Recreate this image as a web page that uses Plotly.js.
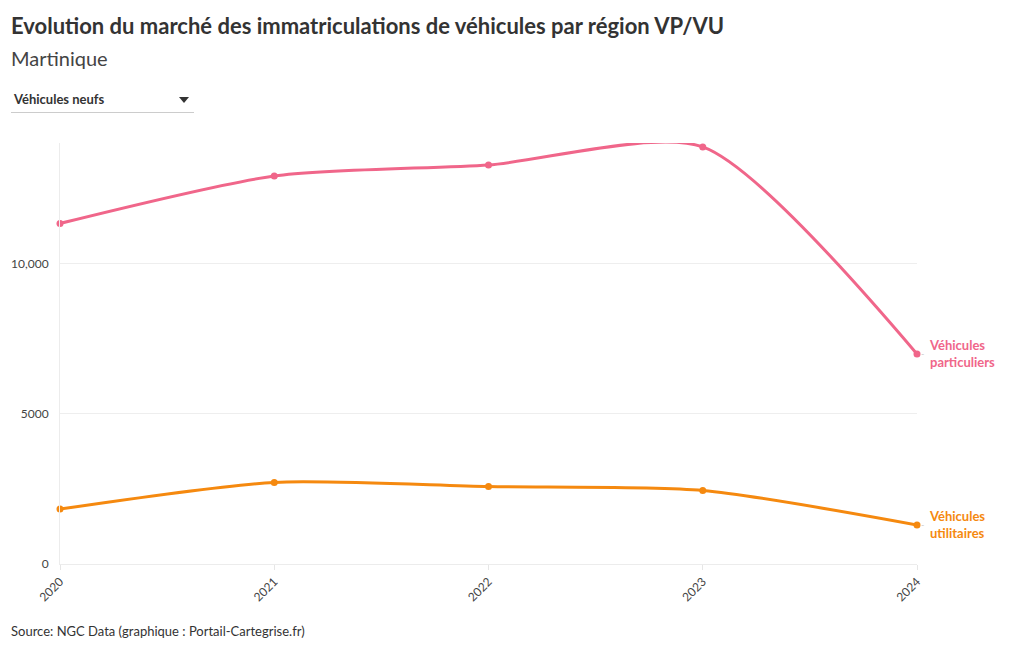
<!DOCTYPE html>
<html><head><meta charset="utf-8">
<script src="https://cdn.plot.ly/plotly-3.0.1.min.js"></script>
<style>
body{margin:0;background:#fff;font-family:"Source Sans Pro",Lato,"Noto Sans",sans-serif;}
#wrap{position:relative;width:1020px;height:650px;}
#chart{position:absolute;left:0;top:0;width:1020px;height:650px;}
#dd{position:absolute;left:11px;top:88px;width:183px;height:25px;border-bottom:1px solid #ccc;font-size:13px;font-weight:bold;color:#333;box-sizing:border-box;padding-left:3px;line-height:22px;}
#dd .arr{position:absolute;right:5px;top:9px;width:0;height:0;border-left:5px solid transparent;border-right:5px solid transparent;border-top:6px solid #333;}
</style></head>
<body><div id="wrap"><div id="chart"></div><div id="dd">Véhicules neufs<span class="arr"></span></div></div>
<script>
const years = ['2020','2021','2022','2023','2024'];
const vp = [11350, 12930, 13300, 13900, 7000];
const vu = [1830, 2720, 2580, 2450, 1300];
const seriesNames = ['Véhicules<br>particuliers', 'Véhicules<br>utilitaires'];
const yTickVals = [0, 5000, 10000];
const yTickText = ['0', '5000', '10,000'];
const colors = ['#F0668A', '#F5890F'];
const FONT = '"Source Sans Pro", Lato, "Noto Sans", sans-serif';

const data = [vp, vu].map((v, i) => ({
  x: years, y: v, type: 'scatter', mode: 'lines+markers', cliponaxis: false,
  line: {color: colors[i], width: 3, shape: 'spline', smoothing: 0.7},
  marker: {color: colors[i], size: 7},
  hoverinfo: 'x+y', showlegend: false
}));

const annotations = [];
[vp, vu].forEach((v, i) => {
  const yEnd = v[v.length-1];
  annotations.push({
    x: 1, y: yEnd, xref: 'paper', yref: 'y',
    text: '<b>' + seriesNames[i] + '</b>', showarrow: false,
    xanchor: 'left', yanchor: 'middle', xshift: 10, align: 'left',
    font: {family: FONT, size: 13, color: colors[i], weight: 700}
  });
  annotations.push({
    x: 1, y: yEnd, xref: 'paper', yref: 'y', text: '-', showarrow: false,
    xanchor: 'left', yanchor: 'middle', xshift: 2,
    font: {family: FONT, size: 9, color: '#ccc'}
  });
});
annotations.push({
  xref: 'paper', yref: 'paper', x: 0, y: 0, xshift: -51, yshift: -67,
  xanchor: 'left', yanchor: 'middle', showarrow: false,
  text: 'Source: NGC Data (graphique : Portail-Cartegrise.fr)',
  font: {family: FONT, size: 13, color: '#333'}
});
annotations.push({
  xref: 'paper', yref: 'paper', x: 0, y: 1, xshift: -51, yshift: 118,
  xanchor: 'left', yanchor: 'middle', showarrow: false,
  text: '<b>Evolution du marché des immatriculations de véhicules par région VP/VU</b>',
  font: {family: FONT, size: 22, color: '#333'}
});
annotations.push({
  xref: 'paper', yref: 'paper', x: 0, y: 1, xshift: -51, yshift: 85,
  xanchor: 'left', yanchor: 'middle', showarrow: false,
  text: 'Martinique',
  font: {family: FONT, size: 20, color: '#444'}
});

const layout = {
  width: 1020, height: 650,
  margin: {l: 60, r: 103, t: 143, b: 86},
  paper_bgcolor: '#fff', plot_bgcolor: '#fff',
  font: {family: FONT, size: 12, color: '#444'},
  xaxis: {
    type: 'category', tickangle: -45, showgrid: false, zeroline: false,
    ticks: 'outside', ticklen: 5, tickcolor: '#e6e6e6',
    showline: true, linecolor: '#ececec', range: [0, 4],
    tickfont: {family: FONT, size: 12, color: '#444'}
  },
  yaxis: {
    range: [0, 14030], tickvals: yTickVals, ticktext: yTickText,
    showgrid: true, gridcolor: '#eeeeee', zeroline: false,
    showline: true, linecolor: '#ececec', ticks: '', ticklabelstandoff: 8,
    tickfont: {family: FONT, size: 12, color: '#444'}
  },
  annotations: annotations
};
Plotly.newPlot('chart', data, layout, {displayModeBar: false, responsive: false});
</script></body></html>
